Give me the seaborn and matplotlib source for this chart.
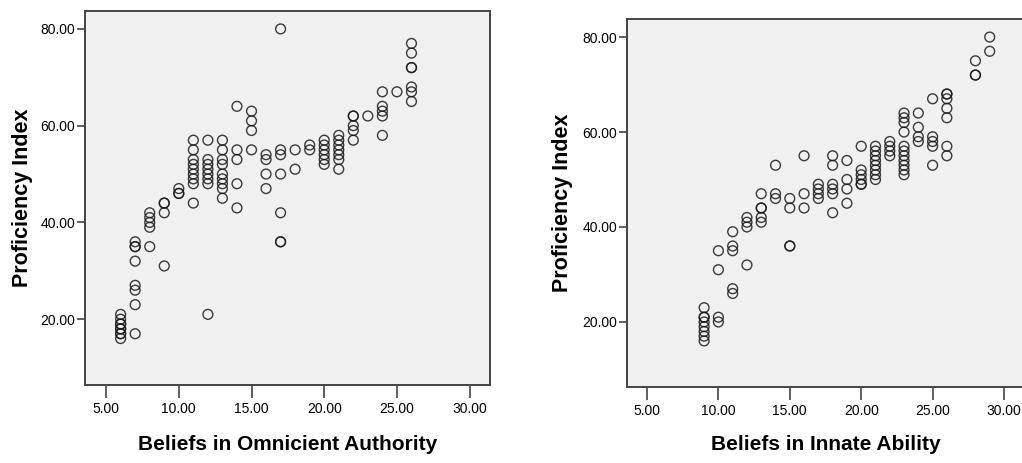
import matplotlib
matplotlib.use("Agg")
import matplotlib.pyplot as plt
import seaborn as sns
from matplotlib.ticker import FormatStrFormatter

# Beliefs in Omnicient Authority vs Proficiency Index
oa_x = [6] * 9 + [7] * 8 + [8] * 5 + [9] * 4 + [10] * 3 + [11] * 9 + [12] * 8 + [13] * 9 + [14] * 5 \
    + [15] * 4 + [16] * 4 + [17] * 7 + [18] * 2 + [19] * 2 + [20] * 6 + [21] * 7 + [22] * 5 + [23] * 1 \
    + [24] * 5 + [25] * 1 + [26] * 7
oa_y = [16, 17, 17, 18, 18, 19, 19, 20, 21,
        17, 23, 26, 27, 32, 35, 35, 36,
        35, 39, 40, 41, 42,
        31, 42, 44, 44,
        46, 46, 47,
        44, 48, 49, 50, 51, 52, 53, 55, 57,
        21, 48, 49, 50, 51, 52, 53, 57,
        45, 47, 48, 49, 50, 52, 53, 55, 57,
        43, 48, 53, 55, 64,
        55, 59, 61, 63,
        47, 50, 53, 54,
        36, 36, 42, 50, 54, 55, 80,
        51, 55,
        55, 56,
        52, 53, 54, 55, 56, 57,
        51, 53, 54, 55, 56, 57, 58,
        57, 59, 60, 62, 62,
        62,
        58, 62, 63, 64, 67,
        67,
        65, 67, 68, 72, 72, 75, 77]

# Beliefs in Innate Ability vs Proficiency Index
ia_x = [9] * 8 + [10] * 4 + [11] * 5 + [12] * 4 + [13] * 5 + [14] * 3 + [15] * 4 + [16] * 3 + [17] * 4 \
    + [18] * 6 + [19] * 4 + [20] * 6 + [21] * 8 + [22] * 4 + [23] * 11 + [24] * 4 + [25] * 5 + [26] * 7 \
    + [28] * 3 + [29] * 2
ia_y = [16, 17, 18, 19, 20, 21, 21, 23,
        20, 21, 31, 35,
        26, 27, 35, 36, 39,
        32, 40, 41, 42,
        41, 42, 44, 44, 47,
        46, 47, 53,
        36, 36, 44, 46,
        44, 47, 55,
        46, 47, 48, 49,
        43, 47, 48, 49, 53, 55,
        45, 48, 50, 54,
        49, 49, 50, 51, 52, 57,
        50, 51, 52, 53, 54, 55, 56, 57,
        55, 56, 57, 58,
        51, 52, 53, 54, 55, 56, 57, 60, 62, 63, 64,
        58, 59, 61, 64,
        53, 57, 58, 59, 67,
        55, 57, 63, 65, 67, 68, 68,
        72, 72, 75,
        77, 80]

x_ticks = [5, 10, 15, 20, 25, 30]
y_ticks = [20, 40, 60, 80]

sns.set_style("white")
plt.rcParams['font.family'] = ['Liberation Sans', 'DejaVu Sans']

fig = plt.figure(figsize=(10.22, 4.63), dpi=100)
ax1 = fig.add_axes([85 / 1022, 1 - 385 / 463, 405 / 1022, 374 / 463])
ax2 = fig.add_axes([627 / 1022, 1 - 387 / 463, 397 / 1022, 368 / 463])

panels = [
    (ax1, oa_x, oa_y, "Beliefs in Omnicient Authority", (3.55, 31.4), (6.4, 83.7)),
    (ax2, ia_x, ia_y, "Beliefs in Innate Ability", (3.6, 31.4), (6.3, 83.8)),
]

for ax, xs, ys, xlabel, xlim, ylim in panels:
    ax.set_facecolor("#f0f0f0")
    sns.scatterplot(x=xs, y=ys, ax=ax, marker="o", s=50, facecolors="none",
                    edgecolor="#1a1a1a", linewidth=1.0, alpha=0.85)
    ax.set_xlim(*xlim)
    ax.set_ylim(*ylim)
    ax.set_xticks(x_ticks)
    ax.set_yticks(y_ticks)
    ax.xaxis.set_major_formatter(FormatStrFormatter("%.2f"))
    ax.yaxis.set_major_formatter(FormatStrFormatter("%.2f"))
    for sp in ax.spines.values():
        sp.set_visible(True)
        sp.set_color("#444444")
        sp.set_linewidth(1.4)
    ax.tick_params(axis="x", bottom=True, direction="out", length=9, width=1.2,
                   color="#444444", labelsize=10, labelcolor="black", pad=3)
    ax.tick_params(axis="y", left=True, direction="out", length=6, width=1.2,
                   color="#444444", labelsize=10, labelcolor="black", pad=1)
    ax.set_xlabel(xlabel, fontsize=15, fontweight="bold", color="black")
    ax.set_ylabel("Proficiency Index", fontsize=15.5, fontweight="bold", color="black")

ax1.xaxis.set_label_coords(0.5, -60 / 374)
ax2.xaxis.set_label_coords(0.5, -58 / 368)
ax1.yaxis.set_label_coords(-62 / 405, 0.5)
ax2.yaxis.set_label_coords(-65 / 397, 0.5)
for ax in (ax1, ax2):
    ax.xaxis.label.set_va("center")
    ax.yaxis.label.set_va("center")

fig.savefig("out.png", dpi=100)
